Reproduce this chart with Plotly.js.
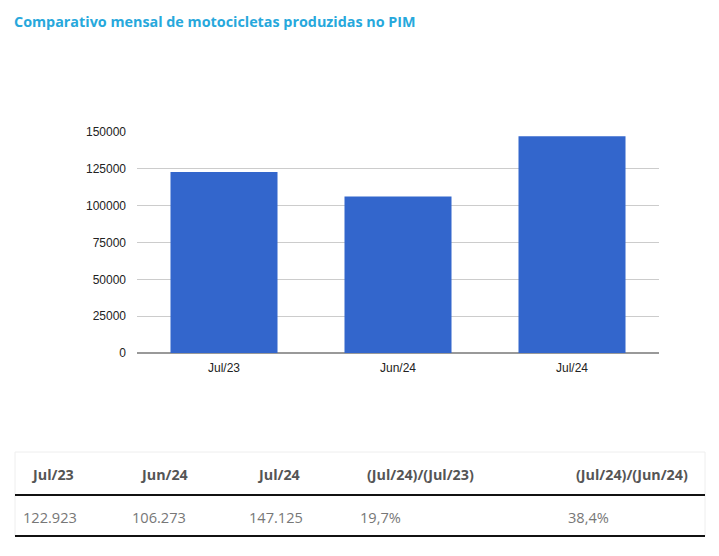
<!DOCTYPE html>
<html>
<head>
<meta charset="utf-8">
<script src="https://cdn.plot.ly/plotly-3.0.1.min.js"></script>
<style>html,body{margin:0;padding:0;background:#fff;}#chart{width:719px;height:556px;}</style>
</head>
<body>
<div id="chart"></div>
<script>
const categories = ["Jul/23", "Jun/24", "Jul/24"];
const values = [122923, 106273, 147125];
const yTicks = [0, 25000, 50000, 75000, 100000, 125000, 150000];
const tableHeaders = ["Jul/23", "Jun/24", "Jul/24", "(Jul/24)/(Jul/23)", "(Jul/24)/(Jun/24)"];
const tableRow = ["122.923", "106.273", "147.125", "19,7%", "38,4%"];

const W = 719, H = 556;
const M = {l: 137, r: 60, t: 132, b: 203};
const pw = W - M.l - M.r, ph = H - M.t - M.b;
const px = x => (x - M.l) / pw;
const py = y => (H - M.b - y) / ph;

const headerX = [29, 138, 255, 365, 574];
const rowX = [21, 130, 247, 358, 566];

const annotations = [];
tableHeaders.forEach((t, i) => annotations.push({
  text: t, xref: 'paper', yref: 'paper', x: px(headerX[i]), y: py(474),
  xanchor: 'left', yanchor: 'middle', showarrow: false,
  font: {family: 'Open Sans', size: 14.3, color: '#555555', weight: 'bold'}
}));
tableRow.forEach((t, i) => annotations.push({
  text: t, xref: 'paper', yref: 'paper', x: px(rowX[i]), y: py(517),
  xanchor: 'left', yanchor: 'middle', showarrow: false,
  font: {family: 'Open Sans', size: 14.6, color: '#777777'}
}));

const shapes = [
  {type: 'rect', xref: 'paper', yref: 'paper', x0: px(15), x1: px(705), y0: py(536), y1: py(452),
   line: {color: '#eeeeee', width: 1}, fillcolor: 'rgba(0,0,0,0)', layer: 'below'},
  {type: 'line', xref: 'paper', yref: 'paper', x0: px(15), x1: px(705), y0: py(495), y1: py(495),
   line: {color: '#111111', width: 2}},
  {type: 'line', xref: 'paper', yref: 'paper', x0: px(15), x1: px(705), y0: py(536), y1: py(536),
   line: {color: '#111111', width: 2}}
];

const trace = {
  type: 'bar', x: categories, y: values,
  marker: {color: '#3366cc'}, hoverinfo: 'x+y'
};

const layout = {
  width: W, height: H,
  margin: M,
  paper_bgcolor: '#ffffff', plot_bgcolor: '#ffffff',
  bargap: 0.385,
  showlegend: false,
  title: {
    text: 'Comparativo mensal de motocicletas produzidas no PIM',
    x: 14 / W, xanchor: 'left', xref: 'container', y: 1 - 22 / H, yanchor: 'middle', yref: 'container',
    font: {family: 'Open Sans', size: 14.35, color: '#27a8dc', weight: 'bold'}
  },
  xaxis: {
    showgrid: false, showline: false, zeroline: false, ticks: '',
    ticklabelstandoff: 6,
    tickfont: {family: 'Liberation Sans, Arial', size: 12, color: '#222222'},
    fixedrange: true
  },
  yaxis: {
    range: [0, 150000], tickvals: yTicks, ticktext: yTicks.map(String),
    showgrid: true, gridcolor: '#cccccc', gridwidth: 1,
    zeroline: true, zerolinecolor: '#999999', zerolinewidth: 2,
    showline: false, ticks: '',
    ticklabelstandoff: 10,
    tickfont: {family: 'Liberation Sans, Arial', size: 12, color: '#222222'},
    fixedrange: true
  },
  annotations: annotations,
  shapes: shapes
};

Plotly.newPlot('chart', [trace], layout, {displayModeBar: false, staticPlot: true});
</script>
</body>
</html>
